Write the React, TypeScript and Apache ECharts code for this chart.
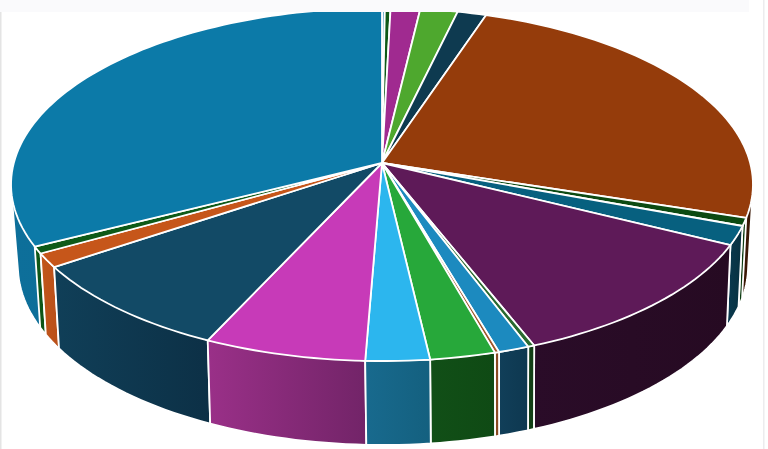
import React, { useEffect, useRef } from "react";
import * as echarts from "echarts";

// Values (share of the full circle, clockwise from 12 o'clock)
const sliceNames = ["A", "B", "C", "D", "E", "F", "G", "H", "I", "J", "K", "L", "M", "N", "O", "P", "Q", "R", "S"];
const sliceValues = [0.5, 1.0, 5.2, 6.6, 5.1, 89.3, 2.6, 6.2, 42.0, 0.9, 4.3, 0.6, 9.1, 8.9, 22.6, 31.2, 4.6, 2.3, 117.0];

const topColors = ["#4a9cc0", "#0e5a18", "#a02a90", "#4ea82e", "#0e3a50", "#953c0b", "#0c4a12", "#07607f", "#5e1a58", "#2a6a30", "#1c8abf", "#a0552a", "#27a83a", "#2cb6ee", "#c73ab8", "#124a66", "#c6561a", "#0e5a18", "#0c7aa8"];
const wallStart = ["#0c5a7a", "#0c4a12", "#7a2070", "#2f7a1c", "#0a2a3a", "#5a2408", "#0c3a10", "#0a3a50", "#2a0c28", "#123f15", "#113f59", "#8a4a22", "#114f17", "#186a8e", "#9a3088", "#103f58", "#c2561a", "#0f5a18", "#0d6f9a"];
const wallEnd = ["#0c5a7a", "#0c4a12", "#7a2070", "#2f7a1c", "#0a2a3a", "#3a1806", "#0c3a10", "#08303f", "#260a22", "#123f15", "#0e3850", "#8a4a22", "#0f4a14", "#14607f", "#722468", "#0c3046", "#b9501a", "#0d5216", "#0d6a92"];

// Perspective view of the two faces of the disc
const topFace = { cx: 382, apex: 163, a: 368.2, b: 173.9, k: 0.1218 };
const baseFace = { cx: 383, apex: 242.7, a: 362, b: 176, k: 0.13 };

type Face = typeof topFace;
const project = (f: Face, deg: number): number[] => {
  const t = (deg * Math.PI) / 180;
  const u = Math.sin(t);
  const v = -Math.cos(t);
  const w = 1 - f.k * v;
  return [f.cx + (f.a * u) / w, f.apex + (f.b * v) / w];
};
const arc = (f: Face, a0: number, a1: number): number[][] => {
  const n = Math.max(2, Math.ceil((a1 - a0) / 1.5));
  const pts: number[][] = [];
  for (let i = 0; i <= n; i++) pts.push(project(f, a0 + ((a1 - a0) * i) / n));
  return pts;
};
// Outline swept by the wall between the two rims
const hull = (input: number[][]): number[][] => {
  const p = [...input].sort((a, b) => a[0] - b[0] || a[1] - b[1]);
  const cross = (o: number[], a: number[], b: number[]) =>
    (a[0] - o[0]) * (b[1] - o[1]) - (a[1] - o[1]) * (b[0] - o[0]);
  const half = (list: number[][]) => {
    const out: number[][] = [];
    for (const q of list) {
      while (out.length >= 2 && cross(out[out.length - 2], out[out.length - 1], q) <= 0) out.pop();
      out.push(q);
    }
    out.pop();
    return out;
  };
  return [...half(p), ...half([...p].reverse())];
};

const total = sliceValues.reduce((s, x) => s + x, 0);
const range = (i: number): [number, number] => {
  let c = 0;
  for (let j = 0; j < i; j++) c += sliceValues[j];
  return [(c / total) * 360, ((c + sliceValues[i]) / total) * 360];
};

const seriesData = sliceNames.map((name, i) => ({ name, value: sliceValues[i] }));
// Walls are painted from the back of the disc to the front
const depth = (i: number) => {
  const [a0, a1] = range(i);
  return -Math.cos((((a0 + a1) / 2) * Math.PI) / 180);
};
const wallOrder = sliceNames.map((_, i) => i).sort((p, q) => depth(p) - depth(q));

export default function App() {
  const ref = useRef<HTMLDivElement>(null);
  useEffect(() => {
    document.body.style.margin = "0";
    document.body.style.background = "#fff";
    const chart = echarts.init(ref.current!, undefined, { renderer: "svg" });
    chart.setOption({
      animation: false,
      backgroundColor: "#ffffff",
      graphic: [
        { type: "rect", z: 10, silent: true, shape: { x: 0, y: 0, width: 749, height: 12 }, style: { fill: "#fafafc" } },
        { type: "rect", z: 10, silent: true, shape: { x: 0, y: 12, width: 1.5, height: 437 }, style: { fill: "#e4e4e4" } },
        { type: "rect", z: 10, silent: true, shape: { x: 763, y: 0, width: 1.5, height: 449 }, style: { fill: "#ececee" } },
      ],
      series: [
        {
          type: "custom",
          coordinateSystem: "none",
          z: 2,
          silent: true,
          data: wallOrder.map((i) => seriesData[i]),
          renderItem: (params: any) => {
            const i = wallOrder[params.dataIndex];
            const [a0, a1] = range(i);
            const points = hull([...arc(topFace, a0, a1), ...arc(baseFace, a0, a1)]);
            return {
              type: "polygon",
              shape: { points },
              style: {
                fill: new echarts.graphic.LinearGradient(0, 0, 1, 0, [
                  { offset: 0, color: wallStart[i] },
                  { offset: 1, color: wallEnd[i] },
                ]),
                stroke: "#ffffff",
                lineWidth: 1.8,
                lineJoin: "round",
              },
            };
          },
        },
        {
          type: "custom",
          coordinateSystem: "none",
          z: 3,
          silent: true,
          data: seriesData,
          renderItem: (params: any) => {
            const i = params.dataIndex;
            const [a0, a1] = range(i);
            const points = [[topFace.cx, topFace.apex], ...arc(topFace, a0, a1)];
            return {
              type: "polygon",
              shape: { points },
              style: { fill: topColors[i], stroke: "#ffffff", lineWidth: 1.8, lineJoin: "round" },
            };
          },
        },
      ],
    });
    return () => chart.dispose();
  }, []);
  return <div ref={ref} style={{ position: "fixed", left: 0, top: 0, width: 768, height: 449 }} />;
}
